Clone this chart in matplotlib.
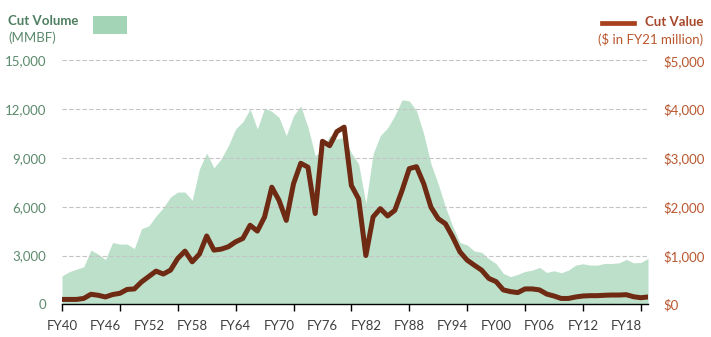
import numpy as np
import matplotlib.pyplot as plt
from matplotlib.patches import Rectangle
from matplotlib.lines import Line2D

plt.rcParams['font.family'] = ['Lato', 'DejaVu Sans']

years = np.arange(1940, 2022)

# cut volume, MMBF
volume = [1750, 2000, 2160, 2300, 3330, 3080, 2750, 3800, 3700, 3700,
          3430, 4650, 4820, 5430, 5940, 6600, 6900, 6900, 6400, 8330,
          9300, 8390, 8940, 9760, 10780, 11220, 12000, 10780, 12060, 11860,
          11490, 10370, 11590, 12200, 10880, 9140, 9450, 10370, 10160, 10260,
          9300, 8630, 6200, 9240, 10370, 10840, 11600, 12570, 12500, 11900,
          10470, 8630, 7400, 5980, 4800, 3800, 3650, 3270, 3200, 2800,
          2500, 1900, 1700, 1840, 2020, 2100, 2270, 1960, 2060, 1940,
          2100, 2410, 2490, 2410, 2410, 2510, 2510, 2550, 2760, 2550,
          2570, 2820]

# cut value, $ million (FY21 dollars)
value = [100, 100, 100, 120, 205, 185, 150, 200, 225, 305,
         315, 460, 570, 680, 620, 700, 940, 1090, 870, 1030,
         1400, 1110, 1130, 1180, 1280, 1350, 1620, 1500, 1790, 2400,
         2130, 1720, 2470, 2890, 2810, 1860, 3340, 3250, 3540, 3630,
         2435, 2160, 1000, 1790, 1960, 1810, 1925, 2330, 2780, 2820,
         2470, 1990, 1755, 1650, 1380, 1075, 905, 800, 700, 530,
         465, 295, 260, 240, 315, 315, 295, 210, 170, 120,
         120, 150, 170, 177, 177, 185, 190, 190, 197, 155,
         135, 150]

label_years = np.arange(1940, 2019, 6)
tick_years = np.arange(1940, 2021, 8)

green_fill = '#bde0cb'
green_txt = '#5b8a6c'
brown_line = '#6e2a12'
orange_txt = '#b9572e'
fs = 9.5

fig = plt.figure(figsize=(7.11, 3.37), dpi=100)
ax = fig.add_axes([62/711, 1 - 304.3/337, (648 - 62)/711, (304.3 - 60.3)/337])
ax2 = ax.twinx()

ax.fill_between(years, volume, 0, color=green_fill, lw=0, zorder=1)
ax.set_ylim(0, 15000)
ax.set_xlim(1940, 2021)
ax.set_yticks(np.arange(0, 15001, 3000))
ax.set_yticklabels([f'{v:,}' for v in range(0, 15001, 3000)])
for v in range(3000, 15001, 3000):
    ax.axhline(v, color='#c4c4c4', lw=0.8, ls=(0, (4, 2)), zorder=2)

ax2.plot(years, value, color=brown_line, lw=3.6, solid_joinstyle='round',
         solid_capstyle='round', zorder=3)
ax2.set_ylim(0, 5000)
ax2.set_yticks(np.arange(0, 5001, 1000))
ax2.set_yticklabels([f'${v:,}' for v in range(0, 5001, 1000)])

for a in (ax, ax2):
    for s in ('top', 'left', 'right'):
        a.spines[s].set_visible(False)
ax2.spines['bottom'].set_visible(False)
ax.spines['bottom'].set_color('black')
ax.spines['bottom'].set_linewidth(1.0)
ax.spines['bottom'].set_zorder(4)

ax.tick_params(axis='y', length=0, pad=11.5, labelsize=fs, labelcolor=green_txt)
ax2.tick_params(axis='y', length=0, pad=11, labelsize=fs, labelcolor=orange_txt)

# tick marks every 8 years, labels every 6 years
ax.xaxis.remove_overlapping_locs = False
ax.set_xticks(tick_years)
ax.set_xticklabels([])
ax.tick_params(axis='x', which='major', length=5, width=1, direction='out', color='black')
ax.set_xticks(label_years, minor=True)
ax.set_xticklabels([f'FY{y % 100:02d}' for y in label_years], minor=True)
ax.tick_params(axis='x', which='minor', length=0, pad=11, labelsize=fs, labelcolor='#404040')

# headers and legend keys
fig.text(8/711, 1 - 21/337, 'Cut Volume', fontsize=fs, fontweight='bold',
         color='#4f7f61', va='center', ha='left')
fig.text(8/711, 1 - 38/337, '(MMBF)', fontsize=fs, color=green_txt, va='center', ha='left')
fig.patches.append(Rectangle((93/711, 1 - 33.7/337), 34/711, 17.7/337,
                             transform=fig.transFigure, color='#a3d4b5', lw=0))

fig.text(703/711, 1 - 22/337, 'Cut Value', fontsize=fs, fontweight='bold',
         color='#a8482a', va='center', ha='right')
fig.text(703/711, 1 - 40/337, '($ in FY21 million)', fontsize=fs, color=orange_txt,
         va='center', ha='right')
fig.lines.append(Line2D([602/711, 634/711], [1 - 22.7/337, 1 - 22.7/337],
                        transform=fig.transFigure, color='#a8401e', lw=3.4))

fig.savefig('out.png', dpi=100)
